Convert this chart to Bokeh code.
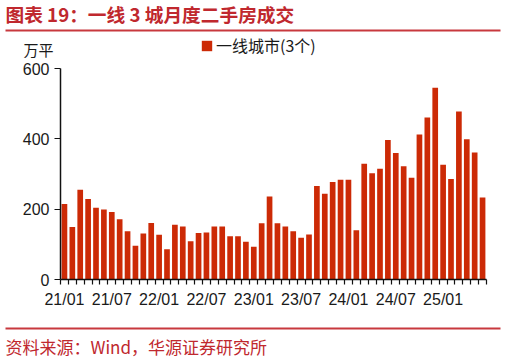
from bokeh.plotting import figure
from bokeh.models import (Range1d, FixedTicker, Label, BoxAnnotation, Legend, LegendItem)
from bokeh.layouts import column
from bokeh.embed import file_html
from bokeh.resources import INLINE

# ---- data ----
months = [f"{y:02d}/{m:02d}" for y in range(21, 26) for m in range(1, 13)][:54]
volumes = [215, 149, 255, 229, 204, 199, 192, 171, 137, 96,
           131, 161, 127, 86, 156, 151, 109, 132, 134, 151,
           151, 123, 123, 107, 93, 160, 236, 160, 151, 137,
           119, 128, 266, 244, 277, 284, 284, 140, 329, 302,
           315, 397, 360, 322, 289, 412, 461, 545, 326, 286,
           478, 399, 361, 233]
tick_labels = ["21/01", "21/07", "22/01", "22/07", "23/01", "23/07", "24/01", "24/07", "25/01"]
y_ticks = [0, 200, 400, 600]
series_name = "一线城市(3个)"
title_text = "图表 19：一线 3 城月度二手房成交"
unit_text = "万平"
source_text = "资料来源：Wind，华源证券研究所"

idx = list(range(len(months)))
tick_pos = [months.index(t) for t in tick_labels]

W = 504
BAR = "#CC2A06"
RED = "#C0282E"
LINE_RED = "#C8393E"
INK = "#1a1a1a"
CJK = "Noto Sans CJK SC"


def blank(h):
    f = figure(width=W, height=h, output_backend="svg", toolbar_location=None,
               x_range=Range1d(0, W), y_range=Range1d(0, h),
               x_axis_type=None, y_axis_type=None, min_border=0, frame_align=False)
    f.outline_line_color = None
    f.xgrid.visible = False
    f.ygrid.visible = False
    return f


def hline(f, bottom, top):
    f.add_layout(BoxAnnotation(left=5, right=500, bottom=bottom, top=top,
                               left_units="screen", right_units="screen",
                               bottom_units="screen", top_units="screen",
                               fill_color=LINE_RED, fill_alpha=1, line_color=None))


# ---- header: title, rule, unit, legend ----
TOP_H = 58
head = blank(TOP_H)
head.add_layout(Label(x=5, y=45, x_units="screen", y_units="screen", text=title_text,
                      text_font=CJK, text_font_size="18.7px", text_font_style="bold",
                      text_color=RED, text_baseline="middle", text_align="left"))
hline(head, 27, 29)
head.add_layout(Label(x=23, y=9.5, x_units="screen", y_units="screen", text=unit_text,
                      text_font=CJK, text_font_size="15px",
                      text_color=INK, text_baseline="middle", text_align="left"))
# legend key: same series, hidden in the header, only its swatch is shown
key = head.vbar(x=idx, top=volumes, width=0.72, fill_color=BAR, line_color=None, visible=False)
legend = Legend(items=[LegendItem(label=series_name, renderers=[key])],
                location=(200, 1), orientation="horizontal",
                glyph_width=13, glyph_height=13, label_height=13,
                label_standoff=3, padding=0, margin=0, spacing=0,
                border_line_color=None, background_fill_alpha=0,
                label_text_font=CJK, label_text_font_size="16px",
                label_text_color=INK, label_text_baseline="middle")
head.add_layout(legend, "center")

# ---- chart ----
p = figure(width=W, height=254, output_backend="svg", toolbar_location=None,
           x_range=Range1d(-0.5, len(months) - 0.5), y_range=Range1d(0, 600),
           min_border_left=60, min_border_top=10, min_border_right=18, min_border_bottom=33,
           frame_align=False)
p.outline_line_color = None
p.xgrid.visible = False
p.ygrid.visible = False

p.vbar(x=idx, top=volumes, width=0.72, fill_color=BAR, line_color=None)

xa = p.xaxis[0]
xa.ticker = FixedTicker(ticks=tick_pos, minor_ticks=[i - 0.5 for i in range(len(months) + 1)])
xa.major_label_overrides = {pos: lab for pos, lab in zip(tick_pos, tick_labels)}
xa.major_tick_line_color = None
xa.major_tick_out = 5
xa.major_tick_in = 0
xa.minor_tick_out = 5
xa.minor_tick_in = 0
xa.minor_tick_line_color = "#111111"
xa.minor_tick_line_width = 1.2
xa.major_label_standoff = 6
xa.axis_line_color = "#111111"
xa.axis_line_width = 1.5
xa.major_label_text_font = "Liberation Sans"
xa.major_label_text_font_size = "16px"
xa.major_label_text_color = INK

ya = p.yaxis[0]
ya.ticker = FixedTicker(ticks=y_ticks, minor_ticks=[])
ya.major_tick_out = 6
ya.major_tick_in = 0
ya.major_tick_line_color = "#111111"
ya.major_tick_line_width = 1.2
ya.minor_tick_line_color = None
ya.major_label_standoff = 5
ya.axis_line_color = "#111111"
ya.axis_line_width = 1.5
ya.major_label_text_font = "Liberation Sans"
ya.major_label_text_font_size = "16px"
ya.major_label_text_color = INK

# ---- footer: rule and source ----
BOT_H = 48
foot = blank(BOT_H)
hline(foot, 31, 33)
foot.add_layout(Label(x=5, y=14, x_units="screen", y_units="screen", text=source_text,
                      text_font=CJK, text_font_size="17px",
                      text_color=RED, text_baseline="middle", text_align="left"))

layout = column(head, p, foot, spacing=0)
open("out.html", "w").write(file_html(layout, INLINE))
